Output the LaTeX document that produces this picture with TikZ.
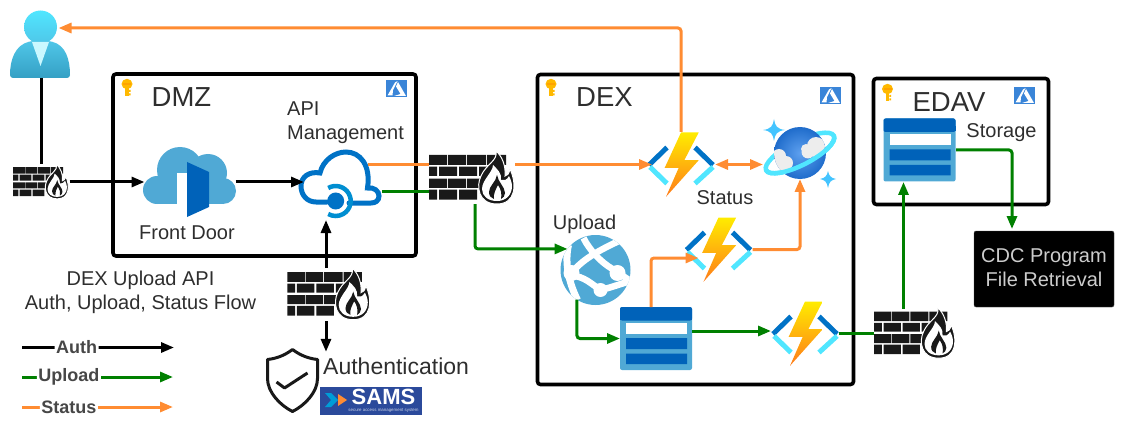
\documentclass[tikz,border=0pt]{standalone}
\usepackage{fontspec}
\setmainfont{Liberation Sans}
\usetikzlibrary{arrows.meta}
\definecolor{azdark}{HTML}{0072C6}
\definecolor{azlight}{HTML}{50E6FF}
\definecolor{azmid}{HTML}{50A9D5}
\definecolor{azdoor}{HTML}{0062B9}
\definecolor{azlogo}{HTML}{3A85D8}
\definecolor{keygold}{HTML}{FFB900}
\definecolor{flowgreen}{HTML}{008000}
\definecolor{floworange}{HTML}{FF8C32}
\definecolor{lblgray}{HTML}{2E2E2E}
\definecolor{samsblue}{HTML}{2B4A9B}
\definecolor{userhi}{HTML}{4FC6E8}
\definecolor{userlo}{HTML}{35A0C4}
\definecolor{planethi}{HTML}{5EA0EF}
\definecolor{planetlo}{HTML}{1F6CCB}
\tikzset{
  iconbox/.style={inner sep=0pt, outer sep=0pt},
  zonebox/.style={draw, line width=3.6pt, rounded corners=3pt, inner sep=0pt, outer sep=0pt},
  lbl/.style={font=\fontsize{20}{24}\selectfont, text=lblgray, inner sep=0pt, align=center},
  zonelbl/.style={lbl, font=\fontsize{27.5}{32}\selectfont},
  legendlbl/.style={font=\fontsize{18}{20}\selectfont\bfseries, text=black!72, fill=white, inner sep=1.5pt},
  authline/.style={line width=3pt, black, rounded corners=3pt, -{Triangle[length=13pt,width=10pt]}},
  uploadline/.style={line width=3pt, flowgreen, rounded corners=3pt, -{Triangle[length=13pt,width=10pt]}},
  statusline/.style={line width=3pt, floworange, rounded corners=3pt, -{Triangle[length=13pt,width=10pt]}},
  fwicon/.pic={
    \fill[black!90] (-43,-23) rectangle (-25,-13) (-24,-23) rectangle (-6,-13) (-5,-23) rectangle (14,-13) (15,-23) rectangle (34,-13);
    \fill[black!90] (-43,-11.3) rectangle (-35,-2) (-33,-11.3) rectangle (-15,-2) (-13,-11.3) rectangle (5,-2) (7,-11.3) rectangle (25,-2);
    \fill[black!90] (-43,0.7) rectangle (-25,10) (-24,0.7) rectangle (-6,10) (-5,0.7) rectangle (14,10);
    \fill[black!90] (-43,11.7) rectangle (-35,21.7) (-33,11.7) rectangle (-15,21.7) (-13,11.7) rectangle (5,21.7);
    \filldraw[fill=black!90, draw=white, line width=1pt] (24,-27) .. controls (26,-17) and (14,-14) .. (9,-2) .. controls (4,8) and (6,26) .. (25,26) .. controls (44,26) and (45,6) .. (38,-9) .. controls (37,-4) and (35,-2) .. (33,-2) .. controls (34,-12) and (30,-22) .. (24,-27) -- cycle;
    \fill[white] (21,-13) .. controls (21,-6) and (10,2) .. (10,11) .. controls (10,18) and (16,23) .. (25,23) .. controls (34,23) and (40,17) .. (40,8) .. controls (40,4) and (38,0) .. (37,-2) .. controls (35,2) and (32,3) .. (29,2) .. controls (30,-5) and (25,-9) .. (21,-13) -- cycle;
    \fill[black!90] (25,-3) .. controls (26,4) and (33,9) .. (33,15) .. controls (33,18) and (31,20) .. (29,21) .. controls (30,16) and (29,11) .. (26,7) .. controls (24,11) and (21,16) .. (22,21) .. controls (19,20) and (17,18) .. (17,14) .. controls (17,8) and (24,4) .. (25,-3) -- cycle;
  },
  fnicon/.pic={
    \draw[line width=5pt, azdark] (-14,-17) -- (-32,0.5);
    \draw[line width=5pt, azlight] (-31,2.5) -- (-14,19);
    \draw[line width=5pt, azdark] (14,-17) -- (32,0.5);
    \draw[line width=5pt, azlight] (32,2.5) -- (14,19);
    \shade[top color=yellow!85!orange, bottom color=orange!85!red!90] (0,-32) -- (17.7,-32) -- (3.3,-4.3) -- (17.7,-4.3) -- (-15,32.3) -- (-2.3,3.3) -- (-16.3,3.3) -- cycle;
  },
  tableicon/.pic={
    \fill[azmid, rounded corners=2pt] (-36,-31.5) rectangle (36,31.5);
    \fill[azdoor, rounded corners=2pt] (-36,-31.5) rectangle (36,-18);
    \fill[azdoor] (-36,-24) rectangle (36,-19);
    \fill[white] (-30,-16) rectangle (31,-5);
    \fill[azdoor] (-30,-0.5) rectangle (31,10.5) (-30,15) rectangle (31,25.5);
  },
  keyicon/.pic={
    \fill[keygold] (-1.8,-4) rectangle (1.8,8);
    \fill[keygold] (0,-4) ellipse (5.5 and 5.2);
    \fill[keygold] (1.8,2) rectangle (3.5,4) (1.8,5.5) rectangle (3.5,7.5);
    \fill[keygold!60!orange] (-4,-4.5) rectangle (4,-3);
  },
  azicon/.pic={
    \fill[azlogo] (-10.5,-8.5) rectangle (10.5,8.5);
    \fill[white] (-9,7) -- (-1.5,-6) -- (1,-7.5) -- (-3.5,1.5) -- (-4,7) -- cycle;
    \fill[white] (1.5,-6.5) -- (9.5,7.5) -- (-2.5,7.5) -- (4,5.5) -- (-0.5,-2) -- cycle;
  },
}
\begin{document}
\begin{tikzpicture}[x=1pt, y=-1pt]
  \useasboundingbox (0,0) rectangle (1125,425);
  % zones
  \node[zonebox, minimum width=303pt, minimum height=182pt] (dmzbox) at (264.5,165) {};
  \node[zonebox, minimum width=316pt, minimum height=310pt] (dexbox) at (695.5,229.5) {};
  \node[zonebox, minimum width=175pt, minimum height=126pt] (edavbox) at (961,141.5) {};
  \node[draw=black!70, fill=black, rounded corners=2pt, minimum width=140pt, minimum height=76pt, inner sep=0pt, outer sep=0pt, align=center, text=black!20, font=\fontsize{20}{24}\selectfont] (cdc) at (1044,269) {\raisebox{2.5pt}{CDC Program}\\\raisebox{2.5pt}{File Retrieval}};
  % icon places
  \node[iconbox, minimum width=61pt, minimum height=68pt] (user) at (41,44) {};
  \node[iconbox, minimum width=57pt, minimum height=35pt] (fwauth) at (41,182) {};
  \node[iconbox, minimum width=91pt, minimum height=70pt] (frontdoor) at (190,182) {};
  \node[iconbox, minimum width=84pt, minimum height=76pt] (apim) at (340,182) {};
  \node[iconbox, minimum width=86pt, minimum height=52pt] (fwup) at (472,178) {};
  \node[iconbox, minimum width=84pt, minimum height=53pt] (fwsams) at (329,294.5) {};
  \node[iconbox, minimum width=82pt, minimum height=50pt] (fwout) at (915,333.5) {};
  \node[iconbox, minimum width=68pt, minimum height=65pt] (fnstatus) at (681,164.5) {};
  \node[iconbox, minimum width=68pt, minimum height=65pt] (fnmid) at (718.5,249.5) {};
  \node[iconbox, minimum width=68pt, minimum height=65pt] (fnout) at (805,333.5) {};
  \node[iconbox, minimum width=74pt, minimum height=52pt] (cosmos) at (800,153) {};
  \node[iconbox, circle, minimum size=70pt] (globe) at (595.5,270) {};
  \node[iconbox, minimum width=72pt, minimum height=63pt] (queue) at (656,338.5) {};
  \node[iconbox, minimum width=73pt, minimum height=64pt] (edavstore) at (919.5,150) {};
  \node[iconbox, minimum width=53pt, minimum height=65pt] (shield) at (292.5,380.5) {};
  % user
  \shade[top color=azlight, bottom color=userhi] (user.center) ++(-0.5,-17) circle (16.5);
  \shade[top color=userhi, bottom color=userlo, rounded corners=3pt] (10,78) .. controls (10,60) and (15,45) .. (32,41) -- (49,41) .. controls (66,45) and (70,60) .. (70,78) -- cycle;
  \fill[azlight!30!white] (32,42) -- (49,42) -- (40.5,66) -- cycle;
  % front door
  \begin{scope}[shift={(frontdoor.center)}]
    \fill[azmid] (-10,-12) circle (23) (18,-9) circle (19) (-33,8) circle (14) (33,9) circle (13);
    \fill[azmid] (-33,-2) rectangle (33,22);
    \fill[white] (-13,-9) rectangle (-3,22);
    \fill[azdoor] (-3,-20) -- (19,-10) -- (19,25) -- (-3,35) -- cycle;
  \end{scope}
  % api management
  \begin{scope}[shift={(apim.center)}]
    \filldraw[fill=white, draw=azdark, line width=5pt, line cap=round] (-13,20) -- (-24,20) .. controls (-33,20) and (-39,13) .. (-39,4) .. controls (-39,-5) and (-31,-11) .. (-20,-9) .. controls (-17,-22) and (-5,-30) .. (6,-30) .. controls (20,-30) and (31,-17) .. (27.5,6) .. controls (34,5) and (39,9) .. (39,14) .. controls (39,19) and (35,21) .. (31,21) -- (9,21);
    \draw[line width=4.5pt, azdark!80!cyan] (-4.3,19) ++(-120:15) arc[start angle=-120, end angle=120, radius=15];
    \fill[azdark] (-4.3,19) circle (8.5);
  \end{scope}
  % cosmos
  \begin{scope}[shift={(cosmos.center)}]
    \begin{scope}[rotate=27]
      \draw[azlight, line width=4.5pt] (0,0) ellipse (38 and 12);
    \end{scope}
    \shade[inner color=planethi, outer color=planetlo] (0,0) circle (26);
    \begin{scope}
      \clip (0,0) circle (26);
      \fill[black!7] (-21,3) circle (7) (-14,10) circle (7) (-21,11) circle (8);
      \fill[black!7] (16,-7) circle (9) (8,-1) circle (6.5) (17,-1) circle (6) (6,-4) circle (5);
    \end{scope}
    \begin{scope}[rotate=27]
      \draw[azlight, line width=4.5pt] (38,0) arc[start angle=0, end angle=180, x radius=38, y radius=12];
    \end{scope}
    \fill[azlight!85!blue] (-26,-34) .. controls (-25,-27) and (-23,-24) .. (-15,-23) .. controls (-23,-22) and (-25,-19) .. (-26,-12) .. controls (-27,-19) and (-29,-22) .. (-37,-23) .. controls (-29,-24) and (-27,-27) .. (-26,-34) -- cycle;
    \fill[azlight!85!blue] (28,18) .. controls (29,23) and (31,25) .. (36,26) .. controls (31,27) and (29,29) .. (28,35) .. controls (27,29) and (25,27) .. (20,26) .. controls (25,25) and (27,23) .. (28,18) -- cycle;
  \end{scope}
  % globe
  \begin{scope}[shift={(globe.center)}]
    \fill[azmid] (0,0) circle (35);
    \begin{scope}
      \clip (0,0) circle (35);
      \draw[white, line width=6.5pt] (-12,-32) .. controls (-6,-20) and (5,-8) .. (17,-1) -- (38,13);
      \draw[white, line width=6.5pt] (-23,2) .. controls (-12,-12) and (8,-22) .. (30,-32);
      \draw[white, line width=6.5pt] (-23,6) .. controls (-12,6) and (-4,14) .. (5,20) .. controls (14,18) and (25,14) .. (38,10);
      \draw[white, line width=7pt] (-27,-25) .. controls (-31,-8) and (-27,12) .. (-18,30);
      \fill[white] (22,3) circle (8) (5,20) circle (7) (-24,3) circle (8);
    \end{scope}
  \end{scope}
  % shield
  \begin{scope}[shift={(shield.center)}]
    \draw[black!90, line width=3pt, line join=round] (0,-31) .. controls (-8,-25) and (-16,-22) .. (-25,-21) -- (-25,-2) .. controls (-25,12) and (-12,25) .. (0,31) .. controls (12,25) and (25,12) .. (25,-2) -- (25,-21) .. controls (16,-22) and (8,-25) .. (0,-31) -- cycle;
    \draw[black!90, line width=3pt, line join=round] (-16,1.5) -- (-8,7.5) -- (15,-7.5);
  \end{scope}
  % repeated icons
  \pic[scale=0.65] at (fwauth) {fwicon};
  \pic at (fwup) {fwicon};
  \pic[scale=0.97] at (fwsams) {fwicon};
  \pic[scale=0.95] at (fwout) {fwicon};
  \pic at (fnstatus) {fnicon};
  \pic at (fnmid) {fnicon};
  \pic at (fnout) {fnicon};
  \pic at (queue) {tableicon};
  \pic at (edavstore) {tableicon};
  \pic at (127,88) {keyicon};
  \pic at (551,88) {keyicon};
  \pic at (887.5,93) {keyicon};
  \pic at (396.5,88.5) {azicon};
  \pic at (830.5,95.5) {azicon};
  \pic at (1024.5,95.5) {azicon};
  % labels
  \node[zonelbl] (dmzlbl) at (181.5,97) {DMZ};
  \node[zonelbl] (dexlbl) at (604.5,97) {DEX};
  \node[zonelbl] (edavlbl) at (949,102) {EDAV};
  \node[lbl, align=left, anchor=west] (apimlbl) at (287,123) {API\\Management};
  \node[lbl] (fdlbl) at (187,233) {Front Door};
  \node[lbl] (uploadlbl) at (584.5,224) {Upload};
  \node[lbl] (statuslbl) at (725,198) {Status};
  \node[lbl] (storelbl) at (1001.5,133) {Storage};
  \node[lbl] (titlelbl) at (140.5,292.5) {DEX Upload API\\Auth, Upload, Status Flow};
  \node[lbl, font=\fontsize{23}{28}\selectfont, minimum height=28pt, anchor=west] (authtext) at (323,366) {Authentication};
  % sams
  \node[fill=samsblue, minimum width=102pt, minimum height=28pt, inner sep=0pt] (sams) at (371,401) {};
  \fill[azdark!70!cyan] (325,393) -- (331,393) -- (338,400) -- (331,407) -- (325,407) -- (331,400) -- cycle;
  \fill[floworange] (338,394) -- (347,400) -- (338,406) -- cycle;
  \node[text=white, inner sep=0pt, font=\fontsize{22}{22}\selectfont\bfseries] (samstext) at (383.5,396.5) {SAMS};
  \node[text=white!75!samsblue, inner sep=0pt, font=\fontsize{4.4}{5}\selectfont] (samssub) at (383.5,411) {secure access management system};
  % auth
  \draw[line width=3pt] (user.south) -- (fwauth.north);
  \draw[authline] (fwauth.east) -- (frontdoor.west);
  \draw[authline] (frontdoor.east) -- ([xshift=6pt]apim.west);
  \draw[authline] ([xshift=-3pt]fwsams.north) -- ([xshift=-3pt]fwsams.north |- apim.south);
  \draw[authline] ([xshift=-3pt]fwsams.south) -- ([xshift=-3pt]fwsams.south |- authtext.north);
  % upload
  \draw[line width=3pt, flowgreen] ([yshift=-10pt]apim.east) -- ([yshift=-10pt]apim.east -| fwup.west);
  \draw[uploadline] ([xshift=3pt]fwup.south) |- (globe.143);
  \draw[uploadline] (globe.238) |- (queue.west);
  \draw[uploadline] ([yshift=2.5pt]fnout.west -| queue.east) -- ([yshift=2.5pt]fnout.west);
  \draw[line width=3pt, flowgreen] (fnout.east) -- (fwout.west);
  \draw[uploadline] ([xshift=-11.5pt]fwout.north) -- ([xshift=-11.5pt]fwout.north |- edavstore.south);
  \draw[uploadline] (edavstore.east) -| ([xshift=-32pt,yshift=2pt]cdc.north);
  % status
  \draw[line width=3pt, floworange] ([xshift=-14pt]fnstatus.west -| apim.east) -- (fnstatus.west -| fwup.west);
  \draw[statusline] (fnstatus.west -| fwup.east) -- ([xshift=5pt]fnstatus.west);
  \draw[statusline] (fnstatus.north) |- ([xshift=-13pt,yshift=16pt]user.east);
  \draw[statusline, {Triangle[length=13pt,width=10pt]}-{Triangle[length=13pt,width=10pt]}] (fnstatus.east) -- (fnstatus.east -| cosmos.west);
  \draw[statusline] (fnmid.east) -| (cosmos.south);
  \draw[statusline] ([xshift=-5pt]queue.north) |- ([xshift=14pt,yshift=-8.5pt]fnmid.west);
  % legend
  \coordinate (authfrom) at (22,347.5);
  \coordinate (authto) at (174,347.5);
  \coordinate (uploadfrom) at (22,377);
  \coordinate (uploadto) at (173,377);
  \coordinate (statusfrom) at (22,407);
  \coordinate (statusto) at (173,407);
  \draw[authline] (authfrom) -- (authto) node[legendlbl, pos=0.36] (authkey) {Auth};
  \draw[uploadline] (uploadfrom) -- (uploadto) node[legendlbl, pos=0.31] (uploadkey) {Upload};
  \draw[statusline] (statusfrom) -- (statusto) node[legendlbl, pos=0.31] (statuskey) {Status};
\end{tikzpicture}
\end{document}
